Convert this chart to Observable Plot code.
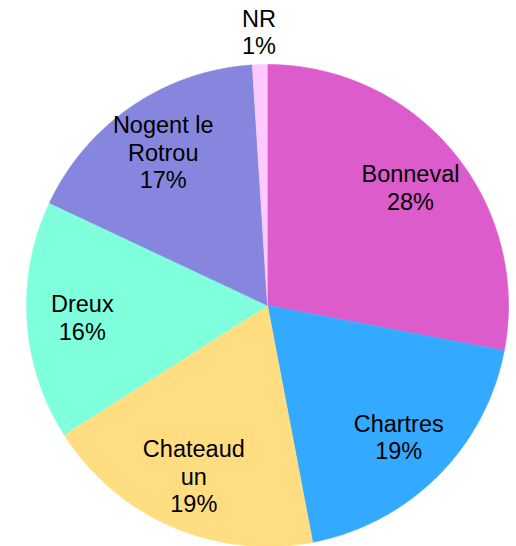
<!DOCTYPE html>
<html>
<head>
<meta charset="utf-8">
<script src="https://cdn.jsdelivr.net/npm/d3@7"></script>
<script src="https://cdn.jsdelivr.net/npm/@observablehq/plot@0.6"></script>
<style>
  html, body { margin: 0; padding: 0; background: #ffffff; }
  #chart svg { display: block; }
</style>
</head>
<body>
<div id="chart"></div>
<script>
// Data
const categories = ["Bonneval", "Chartres", "Chateaudun", "Dreux", "Nogent le Rotrou", "NR"];
const shares = [28, 19, 19, 16, 17, 1];
const labelNames = ["Bonneval", "Chartres", "Chateaud\nun", "Dreux", "Nogent le\nRotrou", "NR"];
const colors = ["#DC5CCC", "#33AAFF", "#FFDD80", "#80FFDC", "#8686DF", "#FFC8FF"];

const total = d3.sum(shares);
let acc = 0;
const slices = categories.map((name, i) => {
  const a0 = acc / total * 2 * Math.PI;
  acc += shares[i];
  const a1 = acc / total * 2 * Math.PI;
  return {name, value: shares[i], label: labelNames[i], a0, a1};
});

// Polygon outline of each slice (center + arc), in unit-circle coordinates
const slicePts = [];
for (const s of slices) {
  slicePts.push({name: s.name, x: 0, y: 0});
  const n = Math.max(2, Math.ceil((s.a1 - s.a0) / (Math.PI / 360)));
  for (let k = 0; k <= n; k++) {
    const a = s.a0 + (s.a1 - s.a0) * k / n;
    slicePts.push({name: s.name, x: Math.sin(a), y: Math.cos(a)});
  }
}

// Label anchors: inside for large slices, outside for the tiny one
const labels = slices.map(s => {
  const m = (s.a0 + s.a1) / 2;
  const r = s.value < 5 ? 1.137 : 0.77;
  return {name: s.name, text: s.label + "\n" + s.value + "%", x: r * Math.sin(m), y: r * Math.cos(m)};
});

const chart = Plot.plot({
  width: 516,
  height: 546,
  margin: 0,
  x: {domain: [-1, 1], range: [26, 508], axis: null},
  y: {domain: [-1, 1], range: [546, 64], axis: null},
  color: {domain: categories, range: colors},
  style: {background: "#ffffff", fontFamily: "'Liberation Sans', Arial, sans-serif"},
  marks: [
    Plot.line(slicePts, {x: "x", y: "y", z: "name", fill: "name", stroke: "name", strokeWidth: 0.6, curve: "linear"}),
    Plot.text(labels, {x: "x", y: "y", text: "text", fill: "#000000", fontSize: 23.5, lineHeight: 1.17, lineAnchor: "middle", textAnchor: "middle"})
  ]
});
document.getElementById("chart").appendChild(chart);
</script>
</body>
</html>
